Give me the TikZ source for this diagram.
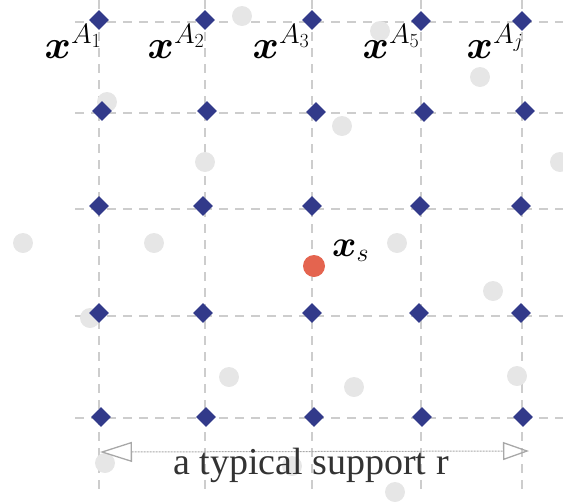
\RequirePackage{fix-cm}
\documentclass[tikz,border=0pt]{standalone}
\usepackage{fontspec}
\usepackage{amsmath,bm}
\newfontfamily\serifr{Liberation Serif}
\usetikzlibrary{shapes.geometric,arrows.meta}
\definecolor{gridgrey}{HTML}{CDCDCD}
\definecolor{dotgrey}{HTML}{E6E6E6}
\definecolor{navy}{HTML}{323A8A}
\definecolor{redpt}{HTML}{E4644F}
\definecolor{arrgrey}{HTML}{A8A8A8}
\tikzset{
  gridline/.style={draw=gridgrey, line width=1.4pt, dash pattern=on 9pt off 7pt},
  anchorpt/.style={diamond, fill=navy, draw=none, inner sep=0pt, minimum size=20pt},
  greypt/.style={circle, fill=dotgrey, draw=none, inner sep=0pt, minimum size=20pt},
  rednode/.style={circle, fill=redpt, draw=none, inner sep=0pt, minimum size=22pt},
  toplab/.style={anchor=base east, inner sep=0pt, font=\fontsize{40}{46}\selectfont},
  supparrow/.style={draw=arrgrey, line width=1pt, dash pattern=on 2pt off 1pt,
     {Triangle[open,length=32pt,width=20pt,line width=1.3pt]}-{Triangle[open,length=26pt,width=18pt,line width=1.3pt]}},
}
\begin{document}
\begin{tikzpicture}[x=1pt,y=-1pt]
\useasboundingbox (0,0) rectangle (563,504);
% grid
\foreach \x in {99,205,312,421,522} \draw[gridline] (\x,0) -- (\x,496);
\foreach \y in {22,113,209,316,418} \draw[gridline] (75,\y) -- (563,\y);
% grey points
\foreach \p [count=\i] in {(107,102),(205,162),(23,243),(154,243),(480,77),(342,126),(560,162),(397,243),(90,318),(229,377),(105,463),(493,291),(354,387),(517,376),(395,492),(242,16),(380,31),(292,466)}
  \node[greypt] (g\i) at \p {};
% anchor points
\foreach \p [count=\i] in {(99,20),(205,20),(312,20),(421,21),(522,21),
  (102,111),(207,111),(316,112),(424,112),(525,111),
  (99,206),(203,206),(312,206),(420,206),(521,206),
  (99,313),(203,313),(312,313),(419,313),(521,313),
  (101,417),(206,417),(314,417),(422,417),(523,417)}
  \node[anchorpt] (d\i) at \p {};
% red point
\node[rednode] (xsp) at (314,266) {};
\node[anchor=base west, inner sep=0pt, font=\fontsize{37}{42}\selectfont] (xs) at (332,256) {$\bm{x}_s$};
% top labels
\node[toplab] (l1) at (102,58) {$\bm{x}^{A_1}$};
\node[toplab] (l2) at (205,58) {$\bm{x}^{A_2}$};
\node[toplab] (l3) at (310,58) {$\bm{x}^{A_3}$};
\node[toplab] (l5) at (420,58) {$\bm{x}^{A_5}$};
\node[toplab] (lj) at (524,58) {$\bm{x}^{A_j}$};
% support arrow
\coordinate (aL) at (100,452);
\coordinate (aR) at (529,451);
\draw[supparrow] (aL) -- (aR);
\node[anchor=base west, inner sep=0pt, text=black!80, font=\serifr\fontsize{38}{44}\selectfont] (cap) at (173,474) {a typical support r};
\end{tikzpicture}
\end{document}
